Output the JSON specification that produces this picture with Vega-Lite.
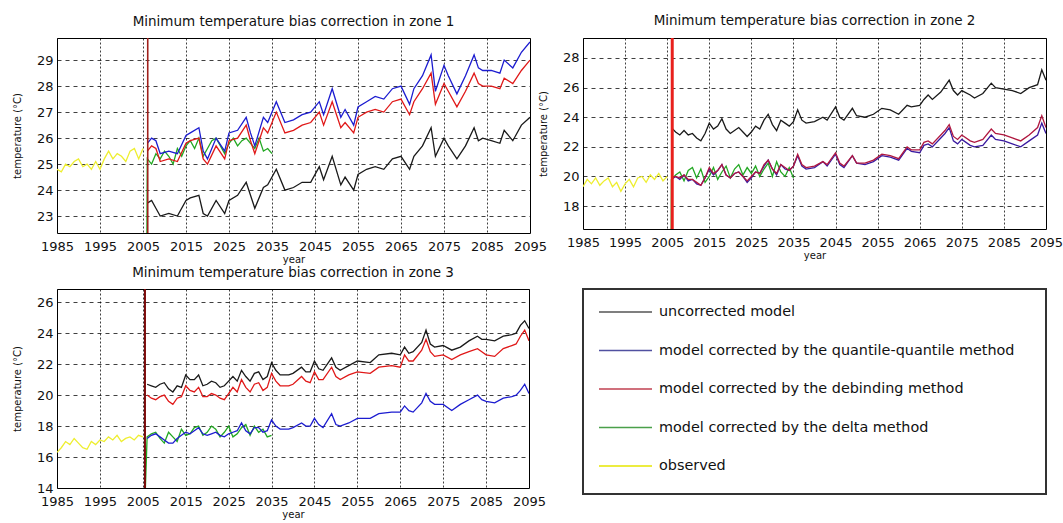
{
"$schema": "https://vega.github.io/schema/vega-lite/v6.json",
"background": "white",
"padding": {"left": 11, "top": 13, "right": 0, "bottom": 0},
"bounds": "flush",
"columns": 2,
"spacing": {"column": 53, "row": 56},
"resolve": {"scale": {"color": "independent"}, "legend": {"color": "independent"}},
"datasets": {
"p1": [{"x":1985,"o":24.8},{"x":1986,"o":24.7},{"x":1987,"o":25.0},{"x":1988,"o":24.9},{"x":1989,"o":25.1},{"x":1990,"o":25.2},{"x":1991,"o":24.9},{"x":1992,"o":25.0},{"x":1993,"o":24.8},{"x":1994,"o":25.1},{"x":1995,"o":24.8},{"x":1996,"o":25.2},{"x":1997,"o":25.5},{"x":1998,"o":25.2},{"x":1999,"o":25.4},{"x":2000,"o":25.3},{"x":2001,"o":25.1},{"x":2002,"o":25.5},{"x":2003,"o":25.6},{"x":2004,"o":25.2},{"x":2005,"o":25.6},
{"x":2005.9,"g":22.0},
{"x":2006,"u":23.5,"q":25.8,"d":25.5,"g":25.2},
{"x":2007,"u":23.6,"q":26.0,"d":25.7,"g":25.0},
{"x":2008,"u":23.3,"q":25.9,"d":25.6,"g":25.4},
{"x":2009,"u":23.0,"q":25.4,"d":25.1,"g":25.2},
{"x":2010,"g":25.5},
{"x":2011,"u":23.1,"q":25.5,"d":25.2,"g":25.3},
{"x":2012,"g":25.0},
{"x":2013,"u":23.0,"q":25.4,"d":25.1,"g":25.6},
{"x":2014,"g":25.3},
{"x":2015,"u":23.6,"q":26.1,"d":25.8,"g":25.7},
{"x":2016,"u":23.7,"q":26.2,"d":25.9,"g":25.9},
{"x":2017,"g":25.6},
{"x":2018,"u":23.8,"q":26.4,"d":26.0,"g":26.0},
{"x":2019,"u":23.1,"q":25.5,"d":25.2,"g":25.3},
{"x":2020,"u":23.0,"q":25.2,"d":25.0,"g":25.6},
{"x":2021,"g":25.9},
{"x":2022,"u":23.6,"q":26.0,"d":25.7,"g":26.0},
{"x":2023,"g":25.7},
{"x":2024,"u":23.1,"q":25.5,"d":25.2,"g":25.4},
{"x":2025,"u":23.6,"q":26.2,"d":25.9,"g":25.8},
{"x":2026,"g":26.0},
{"x":2027,"u":23.8,"q":26.3,"d":26.0,"g":25.7},
{"x":2028,"g":25.9},
{"x":2029,"u":24.3,"q":26.8,"d":26.5,"g":26.0},
{"x":2030,"u":23.8,"q":26.2,"d":25.9,"g":25.8},
{"x":2031,"u":23.3,"q":25.7,"d":25.4,"g":25.6},
{"x":2032,"g":26.0},
{"x":2033,"u":24.1,"q":26.8,"d":26.4,"g":25.5},
{"x":2034,"u":24.2,"q":26.6,"d":26.2,"g":25.6},
{"x":2035,"g":25.4},
{"x":2036,"u":24.8,"q":27.4,"d":27.0},
{"x":2038,"u":24.0,"q":26.6,"d":26.2},
{"x":2040,"u":24.1,"q":26.7,"d":26.3},
{"x":2042,"u":24.3,"q":26.9,"d":26.5},
{"x":2044,"u":24.3,"q":27.0,"d":26.6},
{"x":2046,"u":24.9,"q":27.4,"d":27.0},
{"x":2047,"u":24.4,"q":26.9,"d":26.5},
{"x":2049,"u":25.3,"q":27.9,"d":27.4},
{"x":2051,"u":24.2,"q":26.8,"d":26.4},
{"x":2052,"u":24.5,"q":27.1,"d":26.6},
{"x":2054,"u":24.0,"q":26.5,"d":26.2},
{"x":2055,"u":24.6,"q":27.2,"d":26.8},
{"x":2057,"u":24.8,"q":27.4,"d":27.0},
{"x":2059,"u":24.9,"q":27.6,"d":27.1},
{"x":2061,"u":24.8,"q":27.5,"d":27.0},
{"x":2063,"u":25.2,"q":27.9,"d":27.4},
{"x":2065,"u":25.3,"q":28.0,"d":27.5},
{"x":2067,"u":24.8,"q":27.3,"d":26.9},
{"x":2068,"u":25.3,"q":27.9,"d":27.4},
{"x":2070,"u":25.7,"q":28.4,"d":27.9},
{"x":2072,"u":26.4,"q":29.2,"d":28.5},
{"x":2073,"u":25.3,"q":27.8,"d":27.3},
{"x":2075,"u":26.0,"q":28.8,"d":28.1},
{"x":2076,"u":25.7,"q":28.4,"d":27.8},
{"x":2078,"u":25.2,"q":27.7,"d":27.2},
{"x":2080,"u":25.7,"q":28.4,"d":27.8},
{"x":2082,"u":26.4,"q":29.2,"d":28.5},
{"x":2083,"u":25.9,"q":28.7,"d":28.1},
{"x":2084,"u":26.0,"q":28.6,"d":28.0},
{"x":2086,"u":25.9,"q":28.6,"d":28.0},
{"x":2088,"u":25.8,"q":28.5,"d":27.9},
{"x":2089,"u":26.3,"q":29.0,"d":28.3},
{"x":2091,"u":25.9,"q":28.7,"d":28.1},
{"x":2093,"u":26.5,"q":29.3,"d":28.6},
{"x":2095,"u":26.8,"q":29.7,"d":29.0}],
"p2": [{"x":1985,"o":19.3},{"x":1986,"o":19.8},{"x":1987,"o":19.5},{"x":1988,"o":19.9},{"x":1989,"o":19.4},{"x":1990,"o":19.7},{"x":1991,"o":19.9},{"x":1992,"o":19.3},{"x":1993,"o":19.6},{"x":1994,"o":19.0},{"x":1995,"o":19.5},{"x":1996,"o":19.8},{"x":1997,"o":19.3},{"x":1998,"o":19.9},{"x":1999,"o":20.0},{"x":2000,"o":19.6},{"x":2001,"o":20.1},{"x":2002,"o":19.8},{"x":2003,"o":20.2},{"x":2004,"o":19.7},{"x":2005,"o":20.0},
{"x":2005.95,"g":16.0},
{"x":2006,"u":23.3,"q":19.8,"d":19.9,"g":19.8},
{"x":2007,"u":23.0,"q":20.0,"d":20.0,"g":20.1},
{"x":2008,"u":22.8,"q":19.8,"d":19.9,"g":20.3},
{"x":2009,"u":23.1,"q":20.1,"d":20.1,"g":19.7},
{"x":2010,"u":22.8,"q":19.7,"d":19.8,"g":20.4},
{"x":2011,"u":22.9,"q":19.8,"d":19.8,"g":20.6},
{"x":2012,"u":22.6,"q":19.5,"d":19.6,"g":19.9},
{"x":2013,"u":22.4,"q":19.4,"d":19.4,"g":20.5},
{"x":2014,"u":22.9,"q":19.9,"d":19.9,"g":19.6},
{"x":2015,"u":23.6,"q":20.5,"d":20.6,"g":20.0},
{"x":2016,"u":23.2,"q":20.1,"d":20.2,"g":20.6},
{"x":2017,"u":23.4,"q":20.4,"d":20.4,"g":19.8},
{"x":2018,"u":23.9,"q":20.8,"d":20.8,"g":20.3},
{"x":2019,"u":23.2,"q":20.1,"d":20.1,"g":20.7},
{"x":2020,"u":22.9,"q":19.9,"d":19.9,"g":19.9},
{"x":2021,"u":23.1,"q":20.2,"d":20.2,"g":20.5},
{"x":2022,"u":23.3,"q":20.3,"d":20.3,"g":20.8},
{"x":2023,"u":23.0,"q":20.0,"d":20.0,"g":20.1},
{"x":2024,"u":22.7,"q":19.6,"d":19.7,"g":20.6},
{"x":2025,"u":23.0,"q":19.9,"d":20.0,"g":20.2},
{"x":2026,"u":23.4,"q":20.3,"d":20.3,"g":20.7},
{"x":2027,"u":23.2,"q":20.2,"d":20.2,"g":20.0},
{"x":2028,"u":23.8,"q":20.7,"d":20.8,"g":20.5},
{"x":2029,"u":24.2,"q":21.1,"d":21.1,"g":20.9},
{"x":2030,"u":23.5,"q":20.5,"d":20.5,"g":20.0},
{"x":2031,"u":23.1,"q":20.1,"d":20.2,"g":21.0},
{"x":2032,"u":23.8,"q":20.8,"d":20.8,"g":20.3},
{"x":2033,"u":23.6,"q":20.5,"d":20.6,"g":20.0},
{"x":2034,"u":23.4,"q":20.4,"d":20.4,"g":20.6},
{"x":2035,"u":23.7,"q":20.7,"d":20.7,"g":19.9},
{"x":2036,"u":24.5,"q":21.4,"d":21.5},
{"x":2037,"u":23.8,"q":20.7,"d":20.8},
{"x":2038,"u":23.6,"q":20.5,"d":20.6},
{"x":2040,"u":23.7,"q":20.6,"d":20.7},
{"x":2042,"u":24.0,"q":21.0,"d":21.0},
{"x":2043,"u":23.8,"q":20.7,"d":20.8},
{"x":2045,"u":24.7,"q":21.5,"d":21.6},
{"x":2046,"u":24.0,"q":20.8,"d":20.9},
{"x":2047,"u":23.8,"q":20.6,"d":20.7},
{"x":2049,"u":24.6,"q":21.4,"d":21.4},
{"x":2050,"u":24.1,"q":20.9,"d":20.9},
{"x":2052,"u":24.0,"q":20.8,"d":20.9},
{"x":2054,"u":24.2,"q":21.0,"d":21.1},
{"x":2056,"u":24.6,"q":21.4,"d":21.5},
{"x":2058,"u":24.5,"q":21.3,"d":21.4},
{"x":2060,"u":24.2,"q":21.1,"d":21.2},
{"x":2062,"u":24.8,"q":21.9,"d":22.0},
{"x":2063,"u":24.7,"q":21.7,"d":21.8},
{"x":2065,"u":24.8,"q":21.6,"d":21.8},
{"x":2066,"u":25.2,"q":22.1,"d":22.3},
{"x":2067,"u":25.5,"q":22.2,"d":22.4},
{"x":2068,"u":25.2,"q":22.0,"d":22.2},
{"x":2070,"u":25.7,"q":22.6,"d":22.8},
{"x":2071,"u":26.1,"q":22.9,"d":23.1},
{"x":2072,"u":26.5,"q":23.3,"d":23.5},
{"x":2073,"u":25.8,"q":22.4,"d":22.7},
{"x":2074,"u":25.5,"q":22.2,"d":22.5},
{"x":2075,"u":25.8,"q":22.5,"d":22.8},
{"x":2077,"u":25.5,"q":22.1,"d":22.4},
{"x":2078,"u":25.3,"q":22.0,"d":22.3},
{"x":2080,"u":25.6,"q":22.1,"d":22.5},
{"x":2082,"u":26.3,"q":22.8,"d":23.2},
{"x":2083,"u":26.0,"q":22.5,"d":22.9},
{"x":2085,"u":25.9,"q":22.4,"d":22.8},
{"x":2087,"u":25.8,"q":22.2,"d":22.6},
{"x":2089,"u":25.6,"q":22.0,"d":22.4},
{"x":2091,"u":26.0,"q":22.4,"d":22.8},
{"x":2093,"u":26.2,"q":22.8,"d":23.3},
{"x":2094,"u":27.2,"q":23.6,"d":24.1},
{"x":2095,"u":26.5,"q":22.9,"d":23.3}],
"p3": [{"x":1985,"o":16.3},{"x":1986,"o":16.6},{"x":1987,"o":17.0},{"x":1988,"o":16.8},{"x":1989,"o":17.2},{"x":1990,"o":16.9},{"x":1991,"o":16.6},{"x":1992,"o":16.5},{"x":1993,"o":17.0},{"x":1994,"o":16.8},{"x":1995,"o":17.1},{"x":1996,"o":17.0},{"x":1997,"o":17.3},{"x":1998,"o":17.1},{"x":1999,"o":17.4},{"x":2000,"o":17.0},{"x":2001,"o":17.2},{"x":2002,"o":17.3},{"x":2003,"o":17.1},{"x":2004,"o":17.4},{"x":2005,"o":17.3},
{"x":2005.6,"g":14.0},
{"x":2006,"u":20.7,"q":17.2,"d":20.0,"g":17.3},
{"x":2007,"u":20.6,"q":17.4,"d":19.8,"g":17.5},
{"x":2008,"u":20.5,"q":17.5,"d":19.7,"g":17.6},
{"x":2009,"u":20.7,"q":17.3,"d":19.9,"g":17.2},
{"x":2010,"u":20.8,"q":17.1,"d":20.0,"g":16.9},
{"x":2011,"u":20.4,"q":16.9,"d":19.6,"g":17.6},
{"x":2012,"u":20.2,"q":16.9,"d":19.4,"g":17.3},
{"x":2013,"u":20.6,"q":17.2,"d":19.8,"g":17.0},
{"x":2014,"u":20.5,"q":17.4,"d":19.9,"g":17.8},
{"x":2015,"u":21.3,"q":17.6,"d":20.6,"g":17.4},
{"x":2016,"u":21.0,"q":17.5,"d":20.3,"g":17.5},
{"x":2017,"u":21.0,"q":17.7,"d":20.2,"g":17.9},
{"x":2018,"u":21.3,"q":17.9,"d":20.5,"g":18.0},
{"x":2019,"u":20.6,"q":17.5,"d":19.9,"g":17.4},
{"x":2020,"u":20.7,"q":17.4,"d":19.9,"g":17.6},
{"x":2021,"u":20.9,"q":17.5,"d":20.1,"g":18.0},
{"x":2022,"u":20.8,"q":17.6,"d":20.0,"g":17.8},
{"x":2023,"u":20.5,"q":17.4,"d":19.8,"g":17.3},
{"x":2024,"u":20.6,"q":17.3,"d":19.7,"g":17.6},
{"x":2025,"u":20.9,"q":17.5,"d":20.1,"g":18.0},
{"x":2026,"u":21.2,"q":17.6,"d":20.5,"g":17.3},
{"x":2027,"u":20.9,"q":17.7,"d":20.2,"g":17.5},
{"x":2028,"u":21.6,"q":18.2,"d":21.0,"g":17.9},
{"x":2029,"u":21.2,"q":17.7,"d":20.5,"g":18.1},
{"x":2030,"u":20.9,"q":17.5,"d":20.2,"g":17.4},
{"x":2031,"u":21.4,"q":17.9,"d":20.7,"g":18.0},
{"x":2032,"u":21.5,"q":17.9,"d":20.8,"g":17.6},
{"x":2033,"u":21.0,"q":17.6,"d":20.3,"g":17.8},
{"x":2034,"u":21.2,"q":17.7,"d":20.5,"g":17.3},
{"x":2035,"u":22.1,"q":18.4,"d":21.4,"g":17.4},
{"x":2036,"u":21.6,"q":18.0,"d":20.9},
{"x":2037,"u":21.3,"q":17.8,"d":20.6},
{"x":2039,"u":21.3,"q":17.8,"d":20.6},
{"x":2040,"u":21.4,"q":17.9,"d":20.7},
{"x":2042,"u":21.8,"q":18.2,"d":21.2},
{"x":2043,"u":21.5,"q":18.0,"d":20.9},
{"x":2044,"u":21.5,"q":18.0,"d":20.8},
{"x":2045,"u":22.2,"q":18.5,"d":21.5},
{"x":2046,"u":21.7,"q":18.1,"d":21.0},
{"x":2047,"u":21.6,"q":17.9,"d":21.0},
{"x":2049,"u":22.4,"q":18.8,"d":21.8},
{"x":2050,"u":21.8,"q":18.1,"d":21.2},
{"x":2051,"u":21.6,"q":18.0,"d":21.0},
{"x":2053,"u":21.9,"q":18.2,"d":21.3},
{"x":2055,"u":22.2,"q":18.5,"d":21.5},
{"x":2058,"u":22.1,"q":18.5,"d":21.4},
{"x":2060,"u":22.6,"q":18.8,"d":21.8},
{"x":2063,"u":22.7,"q":18.9,"d":21.9},
{"x":2065,"u":22.6,"q":18.9,"d":21.8},
{"x":2066,"u":23.1,"q":19.3,"d":22.6},
{"x":2067,"u":22.7,"q":19.0,"d":22.2},
{"x":2068,"u":22.8,"q":18.9,"d":22.2},
{"x":2070,"u":23.4,"q":19.5,"d":22.9},
{"x":2071,"u":24.2,"q":20.1,"d":23.6},
{"x":2072,"u":23.3,"q":19.6,"d":22.8},
{"x":2073,"u":23.1,"q":19.4,"d":22.5},
{"x":2075,"u":23.2,"q":19.4,"d":22.6},
{"x":2077,"u":22.9,"q":19.0,"d":22.3},
{"x":2079,"u":23.1,"q":19.4,"d":22.6},
{"x":2081,"u":23.5,"q":19.7,"d":22.8},
{"x":2083,"u":23.8,"q":20.0,"d":23.0},
{"x":2084,"u":23.6,"q":19.7,"d":22.8},
{"x":2085,"u":23.6,"q":19.6,"d":22.6},
{"x":2087,"u":23.5,"q":19.5,"d":22.5},
{"x":2089,"u":23.8,"q":19.8,"d":23.0},
{"x":2091,"u":23.9,"q":19.9,"d":23.2},
{"x":2092,"u":24.0,"q":20.0,"d":23.3},
{"x":2093,"u":24.5,"q":20.3,"d":23.8},
{"x":2094,"u":24.8,"q":20.7,"d":24.2},
{"x":2095,"u":24.3,"q":20.1,"d":23.5}]
},
"concat": [
{
"width": 473, "height": 195,
"title": "Minimum temperature bias correction in zone 1",
"layer": [
{"data": {"name": "p1"},
"transform": [{"fold": ["u","q","d","g","o"], "as": ["s","v"]}, {"filter": "isValid(datum.v)"}],
"mark": {"type": "line", "clip": true, "strokeWidth": 1.3},
"encoding": {
"x": {"field": "x", "type": "quantitative", "scale": {"domain": [1985, 2095], "nice": false, "zero": false}, "axis": {"values": [1985,1995,2005,2015,2025,2035,2045,2055,2065,2075,2085,2095], "format": "d", "title": "year"}},
"y": {"field": "v", "type": "quantitative", "scale": {"domain": [22.35, 29.85], "nice": false, "zero": false}, "axis": {"values": [23,24,25,26,27,28,29], "title": "temperature (°C)"}},
"color": {"field": "s", "type": "nominal", "scale": {"domain": ["u","q","d","g","o"], "range": ["#1a1a1a","#1c1cd0","#e01818","#22a822","#eeee30"]}, "legend": null}
}},
{"data": {"values": [{"x": 2006.1}]}, "mark": {"type": "rule", "color": "#a0201c", "strokeWidth": 1.6}, "encoding": {"x": {"field": "x", "type": "quantitative"}}}
]
},
{
"width": 463, "height": 191,
"title": "Minimum temperature bias correction in zone 2",
"layer": [
{"data": {"name": "p2"},
"transform": [{"fold": ["u","q","d","g","o"], "as": ["s","v"]}, {"filter": "isValid(datum.v)"}],
"mark": {"type": "line", "clip": true, "strokeWidth": 1.3},
"encoding": {
"x": {"field": "x", "type": "quantitative", "scale": {"domain": [1985, 2095], "nice": false, "zero": false}, "axis": {"values": [1985,1995,2005,2015,2025,2035,2045,2055,2065,2075,2085,2095], "format": "d", "title": "year"}},
"y": {"field": "v", "type": "quantitative", "scale": {"domain": [16.45, 29.35], "nice": false, "zero": false}, "axis": {"values": [18,20,22,24,26,28], "title": "temperature (°C)"}},
"color": {"field": "s", "type": "nominal", "scale": {"domain": ["u","q","d","g","o"], "range": ["#1a1a1a","#3a1aa0","#b01840","#22a822","#eeee30"]}, "legend": null}
}},
{"data": {"values": [{"x": 2006.2}]}, "mark": {"type": "rule", "color": "#e8201c", "strokeWidth": 3}, "encoding": {"x": {"field": "x", "type": "quantitative"}}}
]
},
{
"width": 472, "height": 199,
"title": "Minimum temperature bias correction in zone 3",
"layer": [
{"data": {"name": "p3"},
"transform": [{"fold": ["u","q","d","g","o"], "as": ["s","v"]}, {"filter": "isValid(datum.v)"}],
"mark": {"type": "line", "clip": true, "strokeWidth": 1.3},
"encoding": {
"x": {"field": "x", "type": "quantitative", "scale": {"domain": [1985, 2095], "nice": false, "zero": false}, "axis": {"values": [1985,1995,2005,2015,2025,2035,2045,2055,2065,2075,2085,2095], "format": "d", "title": "year"}},
"y": {"field": "v", "type": "quantitative", "scale": {"domain": [14, 26.85], "nice": false, "zero": false}, "axis": {"values": [14,16,18,20,22,24,26], "title": "temperature (°C)"}},
"color": {"field": "s", "type": "nominal", "scale": {"domain": ["u","q","d","g","o"], "range": ["#1a1a1a","#1c1cd0","#e01818","#22a822","#eeee30"]}, "legend": null}
}},
{"data": {"values": [{"x": 2005.5}]}, "mark": {"type": "rule", "color": "#7a0a0a", "strokeWidth": 2}, "encoding": {"x": {"field": "x", "type": "quantitative"}}}
]
},
{
"width": 463, "height": 205,
"view": {"stroke": "#333", "strokeWidth": 2},
"data": {"values": [{"s": "uncorrected model"}, {"s": "model corrected by the quantile-quantile method"}, {"s": "model corrected by the debinding method"}, {"s": "model corrected by the delta method"}, {"s": "observed"}]},
"mark": {"type": "line", "strokeWidth": 1.2},
"encoding": {
"color": {"field": "s", "type": "nominal",
"scale": {"domain": ["uncorrected model", "model corrected by the quantile-quantile method", "model corrected by the debinding method", "model corrected by the delta method", "observed"], "range": ["#555555","#5050a0","#c04050","#4aa04a","#e6e600"]},
"legend": {"orient": "none", "legendX": 15, "legendY": 13, "title": null, "symbolType": "stroke", "symbolSize": 2809, "symbolStrokeWidth": 1.3, "labelFont": "DejaVu Sans", "labelFontSize": 14.4, "labelColor": "#111", "labelOffset": 6, "rowPadding": 18.5, "clipHeight": 20, "padding": 0, "labelLimit": 500}}
}
}
],
"config": {
"font": "DejaVu Sans",
"view": {"stroke": "#000", "strokeWidth": 1},
"title": {"font": "DejaVu Sans", "fontSize": 13.5, "fontWeight": "normal", "color": "#111", "offset": 9},
"axis": {"labelFont": "DejaVu Sans", "labelFontSize": 13, "labelColor": "#111", "titleFont": "DejaVu Sans", "titleFontSize": 10, "titleFontWeight": "normal", "titleColor": "#111", "tickSize": 0, "domain": false, "gridColor": "#000", "gridOpacity": 0.75, "gridWidth": 1, "labelOverlap": false, "labelFlush": false},
"axisX": {"gridDash": [2,2], "labelPadding": 7, "titlePadding": 1},
"axisY": {"gridDash": [4,4], "labelPadding": 4, "titlePadding": 14}
}
}
